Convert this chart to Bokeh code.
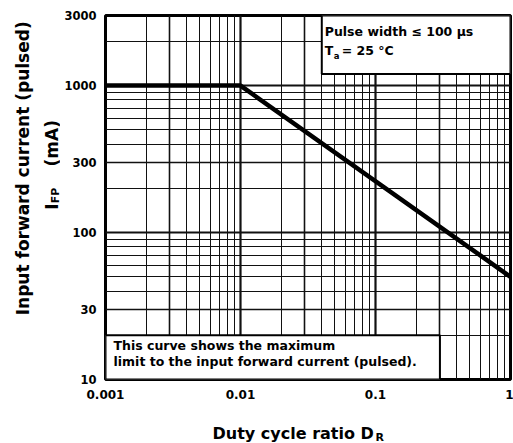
import math
from bokeh.plotting import figure
from bokeh.layouts import column, row
from bokeh.models import FixedTicker, Grid, Label, Range1d
from bokeh.core.properties import value
from bokeh.embed import file_html
from bokeh.resources import INLINE

# ---- data ----
x_curve = [0.001, 0.01, 1.0]
y_curve = [1000, 1000, 50]
x_ticks = [0.001, 0.01, 0.1, 1.0]
x_tick_labels = ["0.001", "0.01", "0.1", "1"]
y_ticks = [10, 30, 100, 300, 1000, 3000]
y_tick_labels = ["10", "30", "100", "300", "1000", "3000"]
x_decades = [0.001, 0.01, 0.1, 1.0]
y_decades = [10, 100, 1000]

FONT = "DejaVu Sans"
TOTAL_W, TOTAL_H = 513, 443
YLAB_W = 60            # width of the y-title strip
XLAB_H = 38            # height of the x-title strip
MAIN_W = TOTAL_W - YLAB_W
MAIN_H = TOTAL_H - XLAB_H
FRAME_L, FRAME_R, FRAME_T, FRAME_B = 105, 510, 15, 379   # page pixels

p = figure(width=MAIN_W, height=MAIN_H, x_axis_type="log", y_axis_type="log",
           x_range=Range1d(0.001, 1.0), y_range=Range1d(10, 3000),
           output_backend="svg", toolbar_location=None,
           min_border_left=FRAME_L - YLAB_W, min_border_right=TOTAL_W - FRAME_R,
           min_border_top=FRAME_T, min_border_bottom=MAIN_H - FRAME_B)
p.background_fill_color = "white"
p.border_fill_color = "white"
p.outline_line_color = "black"
p.outline_line_width = 3

for ax, ticks, labels in ((p.xaxis[0], x_ticks, x_tick_labels), (p.yaxis[0], y_ticks, y_tick_labels)):
    ax.ticker = FixedTicker(ticks=ticks, minor_ticks=[])
    ax.major_label_overrides = {t: l for t, l in zip(ticks, labels)}
    ax.axis_line_color = None
    ax.major_tick_line_color = None
    ax.minor_tick_line_color = None
    ax.major_tick_in = 0
    ax.major_tick_out = 0
    ax.major_label_text_font = FONT
    ax.major_label_text_font_style = "bold"
    ax.major_label_text_color = "black"
p.xaxis[0].major_label_text_font_size = "12px"
p.yaxis[0].major_label_text_font_size = "11.5px"
p.xaxis[0].major_label_standoff = 10
p.yaxis[0].major_label_standoff = 9

p.xgrid.grid_line_color = None
p.ygrid.grid_line_color = None

minor_x = [d * m for d in x_decades[:-1] for m in range(2, 10) if m != 3]
three_x = [d * 3 for d in x_decades[:-1]]
minor_y = [d * m for d in [10, 100, 1000] for m in range(2, 10) if m != 3 and d * m < 3000]
three_y = [d * 3 for d in [10, 100]]

for dim, ticks, w in ((0, minor_x, 1), (1, minor_y, 1), (0, three_x, 1.6), (1, three_y, 1.6),
                      (0, x_decades, 2.2), (1, y_decades, 2.2)):
    g = Grid(dimension=dim, ticker=FixedTicker(ticks=ticks), grid_line_color="#111111", grid_line_width=w)
    p.add_layout(g)

# curve
p.line(x_curve, y_curve, line_color="black", line_width=4.5)

# boxes
p.quad(left=[0.04], right=[1.0], bottom=[1200], top=[3000], fill_color="white",
       line_color="black", line_width=2)
p.quad(left=[0.001], right=[0.3], bottom=[10], top=[20], fill_color="white",
       line_color="black", line_width=2)

def lab(text, x, y, size, **kw):
    p.add_layout(Label(text=text, x=x, y=y, text_font=FONT, text_font_style="bold",
                       text_font_size=size, text_color="black", **kw))

# box texts
lab("Pulse width \u2264 100 \u00b5s", 0.04, 3000, "12.5px", x_offset=3, y_offset=-23)
lab("T", 0.04, 3000, "12.5px", x_offset=3, y_offset=-42)
lab("a", 0.04, 3000, "8.5px", x_offset=12, y_offset=-45)
lab("= 25 \u00b0C", 0.04, 3000, "12.5px", x_offset=20, y_offset=-42)
lab("This curve shows the maximum", 0.001, 10, "12.5px", x_offset=8, y_offset=27)
lab("limit to the input forward current (pulsed).", 0.001, 10, "12.5px", x_offset=8, y_offset=11)


def strip(w, h):
    f = figure(width=w, height=h, x_range=Range1d(0, w), y_range=Range1d(0, h),
               output_backend="svg", toolbar_location=None,
               x_axis_location=None, y_axis_location=None,
               min_border=0, min_border_left=0, min_border_right=0,
               min_border_top=0, min_border_bottom=0)
    f.outline_line_color = None
    f.xgrid.visible = False
    f.ygrid.visible = False
    f.background_fill_color = "white"
    f.border_fill_color = "white"
    return f


def put(f, texts, xs, ys, size, angle=0.0, align="left", baseline="alphabetic"):
    f.text(x=xs, y=ys, text=texts, angle=angle, text_font=value(FONT),
           text_font_style="bold", text_font_size=value(size), text_color="black",
           text_align=align, text_baseline=baseline)


# y title strip (page y -> data y = MAIN_H - page_y)
ylab = strip(YLAB_W, MAIN_H)
put(ylab, ["Input forward current (pulsed)"], [22], [MAIN_H - 170], "17px",
    angle=math.pi / 2, align="center", baseline="middle")
put(ylab, ["I", "(mA)"], [51, 51], [MAIN_H - 216, MAIN_H - 168], "17px", angle=math.pi / 2)
put(ylab, ["FP"], [54.5], [MAIN_H - 209], "11px", angle=math.pi / 2)

# x title strip (page y -> data y = TOTAL_H - page_y)
xlab = strip(TOTAL_W, XLAB_H)
put(xlab, ["Duty cycle ratio D"], [212], [TOTAL_H - 433], "16px")
put(xlab, ["R"], [375], [TOTAL_H - 437], "11px")

layout = column(row(ylab, p, spacing=0), xlab, spacing=0)
open("out.html", "w").write(file_html(layout, INLINE))
